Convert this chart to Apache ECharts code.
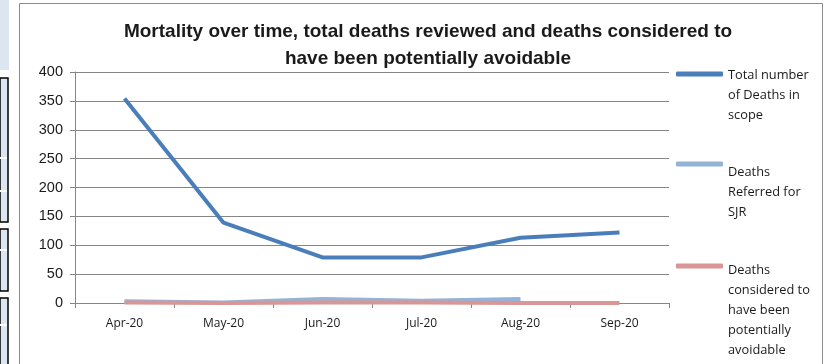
<!DOCTYPE html>
<html>
<head>
<meta charset="utf-8">
<script src="https://cdn.jsdelivr.net/npm/echarts@6/dist/echarts.min.js"></script>
<style>
  html, body { margin: 0; padding: 0; background: #ffffff; }
  #chart { width: 834px; height: 364px; }
</style>
</head>
<body>
<div id="chart"></div>
<script>
// Monthly mortality review figures
const months = ['Apr-20', 'May-20', 'Jun-20', 'Jul-20', 'Aug-20', 'Sep-20'];
const totalDeaths = [354, 139, 79, 79, 113, 122];
const referredSJR = [3, 1, 7, 4, 7, null];
const avoidable = [1, 0, 1, 1, 0, 0];
const yTicks = [0, 50, 100, 150, 200, 250, 300, 350, 400];

const seriesNames = [
  'Total number\nof Deaths in\nscope',
  'Deaths\nReferred for\nSJR',
  'Deaths\nconsidered to\nhave been\npotentially\navoidable'
];
const seriesColors = ['#4a7ebb', '#95b3d7', '#d99694'];

const FONT = '"Liberation Sans", Arial, sans-serif';
const LEG_FONT = '"Open Sans", "Liberation Sans", sans-serif';
const LH = 20;

// one legend block per series; a leading spacer line keeps the icon
// level with the first text line instead of the middle of the block
function legendBlock(i, iconY, shift) {
  const lines = seriesNames[i].split('\n');
  const n = lines.length;
  const padH = (n - 1) * LH + 2 * shift;
  const h = padH + n * LH;
  return {
    data: [seriesNames[i]],
    orient: 'vertical',
    left: 676,
    top: iconY - h / 2,
    padding: 0,
    icon: 'roundRect',
    itemWidth: 47,
    itemHeight: 5,
    selectedMode: false,
    formatter: name => '{pad| }\n' + name.split('\n').map(s => '{t|' + s + '}').join('\n'),
    textStyle: {
      fontFamily: LEG_FONT, fontSize: 12.5, color: '#1a1a1a',
      rich: {
        pad: { lineHeight: padH, fontSize: 2, height: padH },
        t: { fontFamily: LEG_FONT, fontSize: 12.8, color: '#1a1a1a', lineHeight: LH }
      }
    }
  };
}

const chart = echarts.init(document.getElementById('chart'), null, { renderer: 'canvas' });

const lightBlue = '#dce6f1';
chart.setOption({
  animation: false,
  backgroundColor: '#ffffff',
  title: {
    text: 'Mortality over time, total deaths reviewed and deaths considered to\nhave been potentially avoidable',
    left: 423,
    textAlign: 'center',
    top: 13,
    textStyle: { fontFamily: FONT, fontWeight: 'bold', fontSize: 19, color: '#1a1a1a', lineHeight: 27 }
  },
  legend: [
    legendBlock(0, 74, 1),
    legendBlock(1, 164, 8),
    legendBlock(2, 266, 4)
  ],
  grid: { left: 75, right: 165, top: 72, bottom: 61, containLabel: false },
  xAxis: {
    type: 'category',
    data: months,
    boundaryGap: true,
    axisLine: { lineStyle: { color: '#868686', width: 1 } },
    axisTick: { show: true, length: 5, lineStyle: { color: '#868686' } },
    axisLabel: { fontFamily: LEG_FONT, fontSize: 12, color: '#1a1a1a', margin: 15 }
  },
  yAxis: {
    type: 'value',
    min: yTicks[0],
    max: yTicks[yTicks.length - 1],
    interval: yTicks[1] - yTicks[0],
    axisLine: { show: true, lineStyle: { color: '#868686', width: 1 } },
    axisTick: { show: true, length: 5, lineStyle: { color: '#868686' } },
    axisLabel: { fontFamily: FONT, fontSize: 14.5, color: '#1a1a1a', margin: 12 },
    splitLine: { lineStyle: { color: '#868686', width: 1 } }
  },
  series: [
    { name: seriesNames[0], type: 'line', data: totalDeaths, symbol: 'none', z: 5,
      lineStyle: { color: seriesColors[0], width: 4 }, itemStyle: { color: seriesColors[0] } },
    { name: seriesNames[1], type: 'line', data: referredSJR, symbol: 'none', z: 3,
      lineStyle: { color: seriesColors[1], width: 4 }, itemStyle: { color: seriesColors[1] } },
    { name: seriesNames[2], type: 'line', data: avoidable, symbol: 'none', z: 4,
      lineStyle: { color: seriesColors[2], width: 4 }, itemStyle: { color: seriesColors[2] } }
  ],
  graphic: [
    // chart frame
    { type: 'rect', shape: { x: 19.5, y: 3.5, width: 803, height: 420 },
      style: { fill: 'none', stroke: '#8c8c8c', lineWidth: 1 }, silent: true, z: -1 },
    // neighbouring sheet cells on the left edge
    { type: 'rect', shape: { x: 0, y: 0, width: 9, height: 70 }, style: { fill: lightBlue }, silent: true, z: -1 },
    { type: 'rect', shape: { x: 0, y: 78, width: 8, height: 144 }, style: { fill: lightBlue, stroke: '#000', lineWidth: 1.5 }, silent: true, z: -1 },
    { type: 'rect', shape: { x: 0, y: 229, width: 8, height: 62 }, style: { fill: lightBlue, stroke: '#000', lineWidth: 1.5 }, silent: true, z: -1 },
    { type: 'rect', shape: { x: 0, y: 298, width: 8, height: 80 }, style: { fill: lightBlue, stroke: '#000', lineWidth: 1.5 }, silent: true, z: -1 },
    { type: 'line', shape: { x1: 0, y1: 158, x2: 7, y2: 158 }, style: { stroke: '#fff', lineWidth: 2 }, silent: true },
    { type: 'line', shape: { x1: 0, y1: 191, x2: 7, y2: 191 }, style: { stroke: '#fff', lineWidth: 2 }, silent: true },
    { type: 'line', shape: { x1: 0, y1: 250, x2: 7, y2: 250 }, style: { stroke: '#fff', lineWidth: 2 }, silent: true },
    { type: 'line', shape: { x1: 0, y1: 325, x2: 7, y2: 325 }, style: { stroke: '#fff', lineWidth: 2 }, silent: true }
  ]
});
</script>
</body>
</html>
